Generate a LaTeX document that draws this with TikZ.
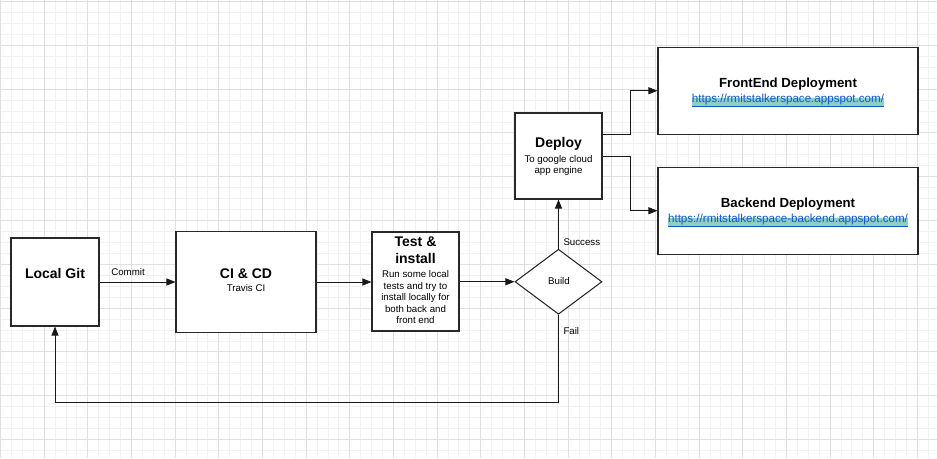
\documentclass[tikz,border=0pt]{standalone}
\usepackage{fontspec}
\setmainfont{Liberation Sans}
\usetikzlibrary{arrows.meta,shapes.geometric}
\definecolor{gridminor}{RGB}{241,241,241}
\definecolor{gridmajor}{RGB}{224,224,224}
\definecolor{boxline}{RGB}{40,40,40}
\definecolor{linkblue}{RGB}{17,85,204}
\definecolor{hl}{RGB}{138,208,198}
\tikzset{
  box/.style={draw=boxline, line width=1.05pt, fill=white, inner sep=0, minimum width=#1},
  ttl/.style={font=\fontsize{14}{16}\selectfont\bfseries, inner sep=0, anchor=base},
  dttl/.style={font=\fontsize{13.2}{15}\selectfont\bfseries, inner sep=0, anchor=base},
  sm/.style={font=\fontsize{9.7}{11.6}\selectfont, inner sep=0, anchor=base},
  lnk/.style={font=\fontsize{11.6}{13}\selectfont, text=linkblue, fill=hl, inner sep=0, text height=5pt, text depth=4pt, anchor=base},
  arr/.style={draw=black!90, line width=0.9pt, -{Triangle[length=9pt,width=7pt]}},
}
\begin{document}
\begin{tikzpicture}[x=1pt,y=-1pt]
\useasboundingbox (0,0) rectangle (937,458);
\fill[white] (0,0) rectangle (937,458);
% grid
\foreach \i in {0,...,86} \draw[gridminor, line width=0.9pt] ({0.5+\i*10.915},0) -- ++(0,458);
\foreach \j in {0,...,42} \draw[gridminor, line width=0.9pt] (0,{1.5+\j*10.95}) -- ++(937,0);
\foreach \i in {0,...,21} \draw[gridmajor, line width=0.9pt] ({0.5+\i*43.66},0) -- ++(0,458);
\foreach \j in {0,...,10} \draw[gridmajor, line width=0.9pt] (0,{1.5+\j*43.8}) -- ++(937,0);

% boxes
\node[box=88pt, minimum height=88pt] (lg) at (55,282) {};
\node[box=140pt, minimum height=101pt] (ci) at (246,282) {};
\node[box=87pt, minimum height=99pt] (ti) at (415.5,281.5) {};
\node[draw=boxline, line width=1.05pt, fill=white, shape=diamond, inner sep=0, minimum width=87pt, minimum height=65pt] (build) at (558.5,281.75) {};
\node[box=87pt, minimum height=86pt] (dep) at (558.5,156) {};
\node[box=260pt, minimum height=87pt] (fe) at (788,90.75) {};
\node[box=260pt, minimum height=87pt] (be) at (788,210.75) {};

% texts
\node[ttl] (lgt) at (55,278.3) {Local Git};
\node[ttl] (cit) at (246,278.3) {CI \& CD};
\node[sm] (cis) at (246,291.7) {Travis CI};
\node[ttl] (tit1) at (415.5,246.7) {Test \&};
\node[ttl] (tit2) at (415.5,263.3) {install};
\node[sm] (tb1) at (415.5,277.5) {Run some local};
\node[sm] (tb2) at (415.5,289.1) {tests and try to};
\node[sm] (tb3) at (415.5,300.7) {install locally for};
\node[sm] (tb4) at (415.5,312.3) {both back and};
\node[sm] (tb5) at (415.5,323.9) {front end};
\node[sm] (bt) at (559,284) {Build};
\node[ttl] (dt) at (558.5,147.7) {Deploy};
\node[sm] (ds1) at (558.5,162) {To google cloud};
\node[sm] (ds2) at (558.5,173.5) {app engine};
\node[dttl] (fet) at (788,87.7) {FrontEnd Deployment};
\node[lnk] (fel) at (788,102.5) {\underline{https://rmitstalkerspace.appspot.com/}};
\node[dttl] (bet) at (788,207.7) {Backend Deployment};
\node[lnk] (bel) at (788,222.5) {\underline{https://rmitstalkerspace-backend.appspot.com/}};

% connectors
\draw[arr] (lg.east) -- (ci.west);
\node[sm] (commit) at (128,275.7) {Commit};
\draw[arr] (ci.east) -- (ci.east -| ti.west);
\draw[arr] (ti.east |- build.west) -- (build.west);
\draw[arr] (build.north) -- (dep.south);
\node[sm, anchor=base west] (succ) at (563.3,245.7) {Success};
\draw[arr] ([yshift=21.5pt]dep.east) -- ++(28,0) |- (fe.west);
\draw[arr] (dep.east) -- ++(28,0) |- (be.west);
\draw[arr] (build.south) -- ++(0,88) -| (lg.south);
\node[sm, anchor=base west] (fail) at (563.3,334) {Fail};
\end{tikzpicture}
\end{document}
